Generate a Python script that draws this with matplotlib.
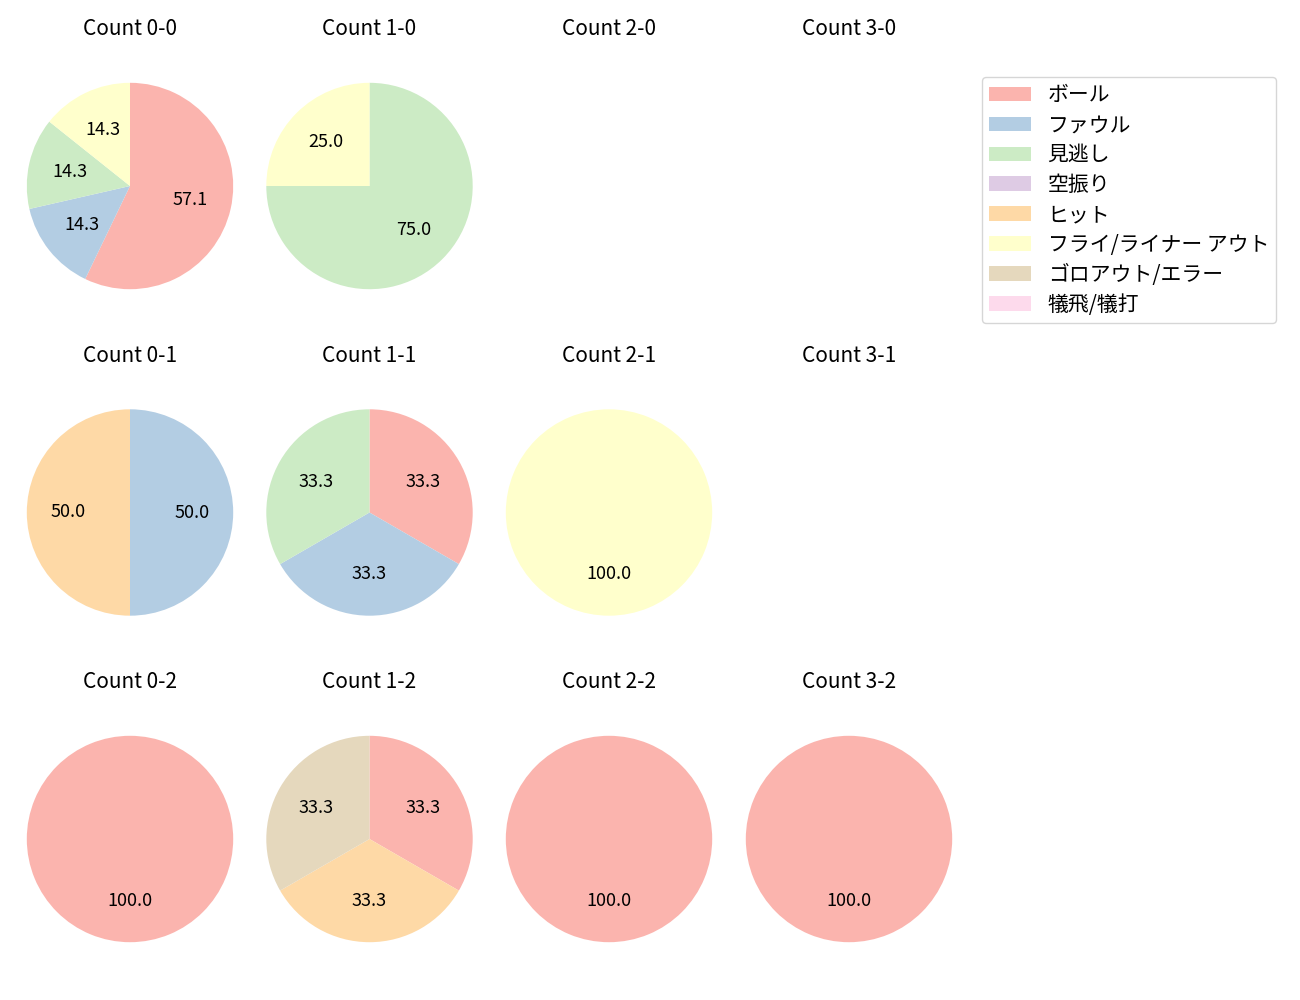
import matplotlib
matplotlib.use("Agg")
import matplotlib.pyplot as plt
from matplotlib.patches import Patch

plt.rcParams['font.family'] = ['Noto Sans CJK JP', 'DejaVu Sans']
plt.rcParams['font.size'] = 12

categories = ["ボール", "ファウル", "見逃し", "空振り", "ヒット",
              "フライ/ライナー アウト", "ゴロアウト/エラー", "犠飛/犠打"]
colors = ["#fbb4ae", "#b3cde3", "#ccebc5", "#decbe4", "#fed9a6",
          "#ffffcc", "#e5d8bd", "#fddaec"]

# counts per situation, in category order
count_0_0 = [4, 1, 1, 0, 0, 1, 0, 0]
count_1_0 = [0, 0, 3, 0, 0, 1, 0, 0]
count_2_0 = [0, 0, 0, 0, 0, 0, 0, 0]
count_3_0 = [0, 0, 0, 0, 0, 0, 0, 0]
count_0_1 = [0, 1, 0, 0, 1, 0, 0, 0]
count_1_1 = [1, 1, 1, 0, 0, 0, 0, 0]
count_2_1 = [0, 0, 0, 0, 0, 1, 0, 0]
count_3_1 = [0, 0, 0, 0, 0, 0, 0, 0]
count_0_2 = [1, 0, 0, 0, 0, 0, 0, 0]
count_1_2 = [1, 0, 0, 0, 1, 0, 1, 0]
count_2_2 = [1, 0, 0, 0, 0, 0, 0, 0]
count_3_2 = [1, 0, 0, 0, 0, 0, 0, 0]

grid = [
    [("Count 0-0", count_0_0), ("Count 1-0", count_1_0), ("Count 2-0", count_2_0), ("Count 3-0", count_3_0)],
    [("Count 0-1", count_0_1), ("Count 1-1", count_1_1), ("Count 2-1", count_2_1), ("Count 3-1", count_3_1)],
    [("Count 0-2", count_0_2), ("Count 1-2", count_1_2), ("Count 2-2", count_2_2), ("Count 3-2", count_3_2)],
]

W, H = 1300, 1000
fig = plt.figure(figsize=(13, 10), dpi=100)

cx = [130, 369.5, 609, 849]
cy = [186, 512.5, 839]
side = 258  # axes square in px (pie radius ~103)

for r, row in enumerate(grid):
    for c, (title, vals) in enumerate(row):
        x0 = (cx[c] - side / 2) / W
        y0 = 1 - (cy[r] + side / 2) / H
        ax = fig.add_axes([x0, y0, side / W, side / H])
        ax.set_title(title, pad=15.5, fontsize=15)
        if sum(vals) > 0:
            v = [val for val in vals if val > 0]
            col = [colors[i] for i, val in enumerate(vals) if val > 0]
            ax.pie(v, colors=col, startangle=90, counterclock=False,
                   autopct='%.1f', pctdistance=0.6,
                   textprops={'fontsize': 13})
        else:
            ax.set_xlim(-1.25, 1.25)
            ax.set_ylim(-1.25, 1.25)
        ax.set_aspect('equal')
        ax.axis('off')

handles = [Patch(facecolor=col) for col in colors]
fig.legend(handles, categories, loc='upper left',
           bbox_to_anchor=(982 / W, 1 - 77 / H), borderaxespad=0,
           fontsize=15, labelspacing=0.38, borderpad=0.35)

fig.savefig("out.png", dpi=100)
